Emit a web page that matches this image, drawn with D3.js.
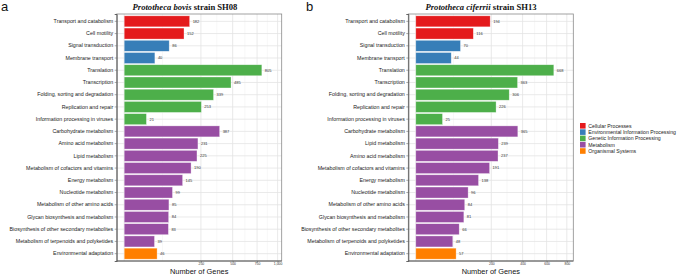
<!DOCTYPE html>
<html>
<head>
<meta charset="utf-8">
<script src="https://cdn.jsdelivr.net/npm/d3@7"></script>
<style>
  body { margin: 0; background: #fff; }
  text { font-family: "Liberation Sans", Arial, sans-serif; }
  .title { font-family: "Liberation Serif", "Times New Roman", serif; font-weight: bold; }
</style>
</head>
<body>
<svg width="685" height="276"></svg>
<script>
// ---- data ----
var groupNames = ["Cellular Processes", "Environmental Information Processing",
  "Genetic Information Processing", "Metabolism", "Organismal Systems"];
var groupColors = ["#E41A1C", "#377EB8", "#4DAF4A", "#984EA3", "#FF7F00"];

var categoriesA = ["Transport and catabolism", "Cell motility", "Signal transduction", "Membrane transport",
  "Translation", "Transcription", "Folding, sorting and degradation", "Replication and repair",
  "Information processing in viruses", "Carbohydrate metabolism", "Amino acid metabolism", "Lipid metabolism",
  "Metabolism of cofactors and vitamins", "Energy metabolism", "Nucleotide metabolism",
  "Metabolism of other amino acids", "Glycan biosynthesis and metabolism",
  "Biosynthesis of other secondary metabolites", "Metabolism of terpenoids and polyketides",
  "Environmental adaptation"];
var valuesA = [182, 152, 86, 40, 805, 485, 339, 253, 21, 387, 231, 225, 190, 145, 99, 85, 84, 83, 39, 46];
var groupsA = [0, 0, 1, 1, 2, 2, 2, 2, 2, 3, 3, 3, 3, 3, 3, 3, 3, 3, 3, 4];
var ticksA = [250, 500, 750, 1000];

var categoriesB = ["Transport and catabolism", "Cell motility", "Signal transduction", "Membrane transport",
  "Translation", "Transcription", "Folding, sorting and degradation", "Replication and repair",
  "Information processing in viruses", "Carbohydrate metabolism", "Lipid metabolism", "Amino acid metabolism",
  "Metabolism of cofactors and vitamins", "Energy metabolism", "Nucleotide metabolism",
  "Metabolism of other amino acids", "Glycan biosynthesis and metabolism",
  "Biosynthesis of other secondary metabolites", "Metabolism of terpenoids and polyketides",
  "Environmental adaptation"];
var valuesB = [194, 116, 70, 44, 668, 363, 306, 226, 25, 365, 239, 237, 191, 138, 96, 84, 81, 66, 48, 57];
var groupsB = [0, 0, 1, 1, 2, 2, 2, 2, 2, 3, 3, 3, 3, 3, 3, 3, 3, 3, 3, 4];
var ticksB = [200, 400, 600, 800];

var svg = d3.select("svg");

function drawPanel(opt) {
  var g = svg.append("g");
  var lim = Math.sqrt(opt.xLimit);
  var x = d3.scaleSqrt()
    .domain([-Math.pow(0.05 * lim, 2), Math.pow(1.05 * lim, 2)])
    .range([opt.left, opt.right]);
  var y = d3.scaleBand()
    .domain(opt.categories)
    .range([opt.top, opt.bottom])
    .paddingInner(0.1)
    .paddingOuter(0.15);

  // minor breaks halfway between majors in sqrt space
  var majors = [0].concat(opt.ticks);
  var minors = [];
  for (var i = 0; i < majors.length - 1; i++) {
    var m = (Math.sqrt(majors[i]) + Math.sqrt(majors[i + 1])) / 2;
    minors.push(m * m);
  }

  g.selectAll("line.minor").data(minors).enter().append("line")
    .attr("x1", d => x(d)).attr("x2", d => x(d))
    .attr("y1", opt.top).attr("y2", opt.bottom)
    .attr("stroke", "#f0f0f0").attr("stroke-width", 0.5);
  g.selectAll("line.major").data(majors).enter().append("line")
    .attr("x1", d => x(d)).attr("x2", d => x(d))
    .attr("y1", opt.top).attr("y2", opt.bottom)
    .attr("stroke", "#e3e3e3").attr("stroke-width", 0.8);
  g.selectAll("line.hgrid").data(opt.categories).enter().append("line")
    .attr("x1", opt.left).attr("x2", opt.right)
    .attr("y1", d => y(d) + y.bandwidth() / 2).attr("y2", d => y(d) + y.bandwidth() / 2)
    .attr("stroke", "#e3e3e3").attr("stroke-width", 0.8);

  g.selectAll("rect.bar").data(opt.categories).enter().append("rect")
    .attr("x", x(0))
    .attr("y", d => y(d))
    .attr("width", (d, i) => x(opt.values[i]) - x(0))
    .attr("height", y.bandwidth())
    .attr("fill", (d, i) => groupColors[opt.groups[i]])
    .attr("stroke", "#ffffff").attr("stroke-opacity", 0.55).attr("stroke-width", 0.6);

  g.selectAll("text.val").data(opt.categories).enter().append("text")
    .attr("x", (d, i) => x(opt.values[i]) + 3)
    .attr("y", d => y(d) + y.bandwidth() / 2 + 1.4)
    .attr("font-size", 4)
    .attr("fill", "#333")
    .text((d, i) => opt.values[i]);

  // panel border
  g.append("rect")
    .attr("x", opt.left).attr("y", opt.top)
    .attr("width", opt.right - opt.left).attr("height", opt.bottom - opt.top)
    .attr("fill", "none").attr("stroke", "#8a8a8a").attr("stroke-width", 0.8);

  var yAxis = g.append("g")
    .attr("transform", "translate(" + opt.left + ",0)")
    .call(d3.axisLeft(y).tickSize(2).tickPadding(1.5));
  yAxis.select(".domain").attr("stroke", "#555").attr("stroke-width", 0.9);
  yAxis.selectAll(".tick line").attr("stroke", "#555").attr("stroke-width", 0.5);
  yAxis.selectAll(".tick text")
    .attr("font-family", "'Liberation Sans', Arial, sans-serif")
    .attr("font-size", 5.3).attr("fill", "#1a1a1a");

  var xAxis = g.append("g")
    .attr("transform", "translate(0," + opt.bottom + ")")
    .call(d3.axisBottom(x).tickValues(opt.ticks).tickSize(1.5).tickPadding(0.4));
  xAxis.select(".domain").attr("stroke", "#555").attr("stroke-width", 0.9)
    .attr("d", "M" + opt.left + ",0H" + opt.right);
  xAxis.selectAll(".tick line").attr("stroke", "#555").attr("stroke-width", 0.5);
  xAxis.selectAll(".tick text")
    .attr("font-family", "'Liberation Sans', Arial, sans-serif")
    .attr("font-size", 3.4).attr("fill", "#333");

  g.append("text")
    .attr("x", (opt.left + opt.right) / 2).attr("y", 273.8)
    .attr("text-anchor", "middle").attr("font-size", 7.4).attr("fill", "#111")
    .text("Number of Genes");

  var t = g.append("text").attr("class", "title")
    .attr("x", opt.titleX).attr("y", 9.5)
    .attr("text-anchor", "middle").attr("font-size", 8.6).attr("fill", "#111");
  t.append("tspan").attr("font-style", "italic").text(opt.species);
  t.append("tspan").text(" strain " + opt.strain);

  svg.append("text")
    .attr("x", opt.letterX).attr("y", 11)
    .attr("font-size", 13).attr("fill", "#111")
    .text(opt.letter);
}

drawPanel({
  categories: categoriesA, values: valuesA, groups: groupsA, ticks: ticksA, xLimit: 956,
  left: 116.7, right: 281.7, top: 14, bottom: 261,
  species: "Prototheca bovis", strain: "SH08", titleX: 185, letter: "a", letterX: 1
});
drawPanel({
  categories: categoriesB, values: valuesB, groups: groupsB, ticks: ticksB, xLimit: 789,
  left: 408.3, right: 573.3, top: 14, bottom: 261,
  species: "Prototheca ciferrii", strain: "SH13", titleX: 481, letter: "b", letterX: 306
});

// legend
var legend = svg.append("g").attr("transform", "translate(580,123)");
var item = legend.selectAll("g").data(groupNames).enter().append("g")
  .attr("transform", (d, i) => "translate(0," + i * 6.3 + ")");
item.append("rect").attr("width", 5.6).attr("height", 5.6)
  .attr("fill", (d, i) => groupColors[i]);
item.append("text").attr("x", 8.3).attr("y", 4.6)
  .attr("font-size", 5.2).attr("fill", "#222")
  .text(d => d);
</script>
</body>
</html>
